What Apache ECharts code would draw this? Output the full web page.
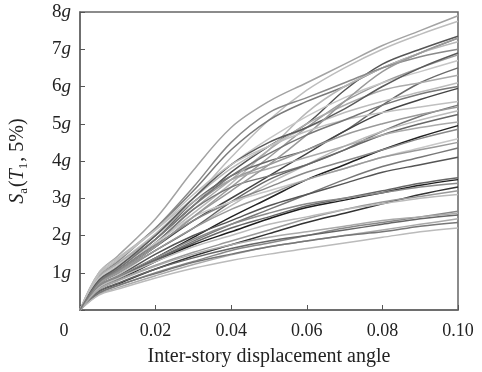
<!DOCTYPE html>
<html><head><meta charset="utf-8">
<script src="https://cdn.jsdelivr.net/npm/echarts@6/dist/echarts.min.js"></script>
<style>html,body{margin:0;padding:0;background:#fff}#c{width:482px;height:372px}</style>
</head><body><div id="c"></div>
<script>
// drift ratio sample points
const drift = [0, 0.005, 0.01, 0.02, 0.03, 0.04, 0.05, 0.06, 0.07, 0.08, 0.09, 0.10];
// Sa(T1,5%) in g for each record
const r01 = [0,1.0,1.45,2.45,3.75,4.9,5.6,6.1,6.6,7.1,7.5,7.9];
const r02 = [0,0.85,1.25,2.05,3.0,4.1,5.1,5.9,6.5,7.0,7.4,7.75];
const r03 = [0,0.8,1.15,1.9,2.8,3.7,4.4,5.0,5.9,6.6,7.0,7.35];
const r04 = [0,0.95,1.35,2.2,3.2,4.3,5.1,5.6,6.0,6.5,6.9,7.3];
const r05 = [0,0.75,1.05,1.8,2.6,3.4,4.3,5.3,6.0,6.5,6.9,7.2];
const r06 = [0,0.9,1.3,2.2,3.3,4.5,5.3,5.7,6.1,6.5,6.8,7.0];
const r07 = [0,0.7,1.0,1.7,2.5,3.3,4.1,4.9,5.6,6.1,6.5,6.85];
const r08 = [0,0.85,1.2,2.0,3.0,3.9,4.6,5.2,5.7,6.1,6.4,6.7];
const r09 = [0,0.8,1.1,1.9,2.9,3.6,4.0,4.3,4.8,5.5,6.1,6.5];
const r10 = [0,0.75,1.05,1.8,2.7,3.5,4.3,5.0,5.5,5.9,6.1,6.3];
const r11 = [0,1.0,1.4,2.15,3.0,3.8,4.4,4.9,5.3,5.6,5.85,6.1];
const r12 = [0,0.7,1.0,1.7,2.4,3.0,3.6,4.2,4.8,5.3,5.65,5.95];
const r13 = [0,0.75,1.05,1.8,2.7,3.3,3.6,3.9,4.3,4.8,5.2,5.5];
const r14 = [0,0.8,1.15,1.9,2.8,3.5,3.9,4.3,4.7,5.0,5.25,5.45];
const r15 = [0,0.65,0.95,1.6,2.2,2.8,3.4,3.9,4.4,4.8,5.1,5.35];
const r16 = [0,0.7,1.0,1.6,2.2,2.9,3.5,3.9,4.3,4.7,5.0,5.25];
const r17 = [0,0.9,1.25,2.0,2.9,3.5,3.8,4.1,4.4,4.7,4.9,5.05];
const r18 = [0,0.6,0.85,1.4,1.95,2.5,3.0,3.5,3.9,4.3,4.65,4.95];
const r19 = [0,0.75,1.05,1.75,2.4,2.9,3.3,3.7,4.0,4.3,4.6,4.85];
const r20 = [0,0.85,1.15,1.8,2.5,2.9,3.2,3.5,3.8,4.1,4.35,4.6];
const r21 = [0,0.6,0.85,1.35,1.85,2.3,2.7,3.1,3.5,3.85,4.1,4.35];
const r22 = [0,0.65,0.9,1.5,2.0,2.4,2.8,3.1,3.4,3.7,3.9,4.1];
const r23 = [0,0.6,0.85,1.35,1.8,2.2,2.5,2.8,3.0,3.2,3.4,3.55];
const r24 = [0,0.55,0.8,1.3,1.75,2.1,2.45,2.75,2.95,3.15,3.35,3.5];
const r25 = [0,0.5,0.7,1.1,1.45,1.75,2.05,2.35,2.6,2.85,3.1,3.3];
const r26 = [0,0.55,0.8,1.2,1.55,1.85,2.15,2.45,2.7,2.9,3.05,3.2];
const r27 = [0,0.6,0.85,1.3,1.7,2.0,2.3,2.5,2.7,2.85,3.0,3.1];
const r28 = [0,0.45,0.65,1.0,1.3,1.6,1.8,2.0,2.2,2.35,2.5,2.65];
const r29 = [0,0.5,0.72,1.1,1.4,1.65,1.85,2.0,2.15,2.3,2.45,2.55];
const r30 = [0,0.42,0.6,0.92,1.22,1.48,1.7,1.85,2.0,2.15,2.3,2.45];
const r31 = [0,0.45,0.66,0.98,1.28,1.5,1.7,1.85,2.0,2.1,2.25,2.35];
const r32 = [0,0.4,0.56,0.86,1.12,1.33,1.5,1.65,1.8,1.95,2.1,2.2];
const r33 = [0,0.8,1.15,2.0,3.0,3.9,4.5,4.9,5.4,6.0,6.5,6.9];
const r34 = [0,0.7,1.0,1.7,2.5,3.2,3.9,4.7,5.6,6.4,6.9,7.3];
const r35 = [0,0.95,1.35,2.15,3.1,3.9,4.4,4.8,5.1,5.3,5.45,5.6];
const r36 = [0,0.7,1.0,1.6,2.2,2.7,3.1,3.5,3.8,4.1,4.3,4.5];
const r37 = [0,0.65,0.9,1.4,1.9,2.3,2.6,2.85,3.0,3.15,3.3,3.4];
const r38 = [0,0.55,0.78,1.18,1.5,1.75,1.95,2.1,2.25,2.4,2.5,2.6];
const r39 = [0,0.75,1.1,1.9,2.8,3.6,4.2,4.7,5.1,5.5,5.8,6.0];
const records = [r01,r02,r03,r04,r05,r06,r07,r08,r09,r10,r11,r12,r13,r14,r15,r16,r17,r18,r19,r20,
  r21,r22,r23,r24,r25,r26,r27,r28,r29,r30,r31,r32,r33,r34,r35,r36,r37,r38,r39];
const xTicks = [0, 0.02, 0.04, 0.06, 0.08, 0.10];
const yTicks = [1,2,3,4,5,6,7,8];

// styling (separate from data)
const shades = ['#a3a3a3','#bdbdbd','#555555','#7a7a7a','#b8b8b8','#8a8a8a','#9c9c9c','#c6c6c6','#6a6a6a','#ababab',
  '#bcbcbc','#444444','#777777','#999999','#bbbbbb','#666666','#aaaaaa','#222222','#888888','#c8c8c8',
  '#777777','#555555','#666666','#1e1e1e','#333333','#999999','#bbbbbb','#888888','#666666','#aaaaaa',
  '#777777','#bbbbbb','#5a5a5a','#9a9a9a','#c0c0c0','#9a9a9a','#8a8a8a','#aaaaaa','#777777'];

const serif = '"Liberation Serif","DejaVu Serif",serif';
const chart = echarts.init(document.getElementById('c'));
chart.setOption({
  animation: false,
  grid: {left: 78, right: 24, top: 12, bottom: 60, show: true, borderColor: '#666', borderWidth: 1.5},
  xAxis: {
    type: 'value', min: 0, max: 0.1, interval: 0.02,
    name: 'Inter-story displacement angle', nameLocation: 'middle', nameGap: 37,
    nameTextStyle: {fontFamily: serif, fontSize: 20, color: '#222'},
    axisLine: {show: true, onZero: false, lineStyle: {color: '#666', width: 1.5}},
    axisTick: {show: true, inside: true, length: 5, lineStyle: {color: '#555'}},
    splitLine: {show: false},
    axisLabel: {
      margin: 12, fontFamily: serif, fontSize: 18, color: '#222',
      formatter: v => Math.abs(v) < 1e-9 ? '{o|0}' : v.toFixed(2),
      rich: {o: {fontFamily: serif, fontSize: 18, color: '#222', padding: [0, 32, 0, 0]}}
    }
  },
  yAxis: {
    type: 'value', min: 0, max: 8, interval: 1,
    name: '{s|S}{sub|a}{p|(}{s|T}{sub|1}{p|, 5%)}', nameLocation: 'middle', nameGap: 50, nameRotate: 90,
    nameTextStyle: {
      fontFamily: serif, fontSize: 19, color: '#222',
      rich: {
        s: {fontFamily: serif, fontSize: 20, fontStyle: 'italic', color: '#222', lineHeight: 24},
        p: {fontFamily: serif, fontSize: 20, color: '#222', lineHeight: 24},
        sub: {fontFamily: serif, fontSize: 13, color: '#222', verticalAlign: 'bottom', lineHeight: 14, padding: [8, 1, 0, 0]}
      }
    },
    axisLine: {show: true, lineStyle: {color: '#666', width: 1.5}},
    axisTick: {show: true, inside: true, length: 5, lineStyle: {color: '#555'}},
    splitLine: {show: false},
    axisLabel: {
      margin: 9, color: '#222',
      formatter: v => v === 0 ? '' : '{n|' + v + '}{g|g}',
      rich: {
        n: {fontFamily: serif, fontSize: 19, color: '#222'},
        g: {fontFamily: serif, fontSize: 19, fontStyle: 'italic', color: '#222'}
      }
    }
  },
  series: records.map((r, i) => ({
    type: 'line', data: drift.map((x, j) => [x, r[j]]), smooth: 0.35, showSymbol: false,
    lineStyle: {color: shades[i], width: 1.5}, z: 2
  }))
});
</script></body></html>
